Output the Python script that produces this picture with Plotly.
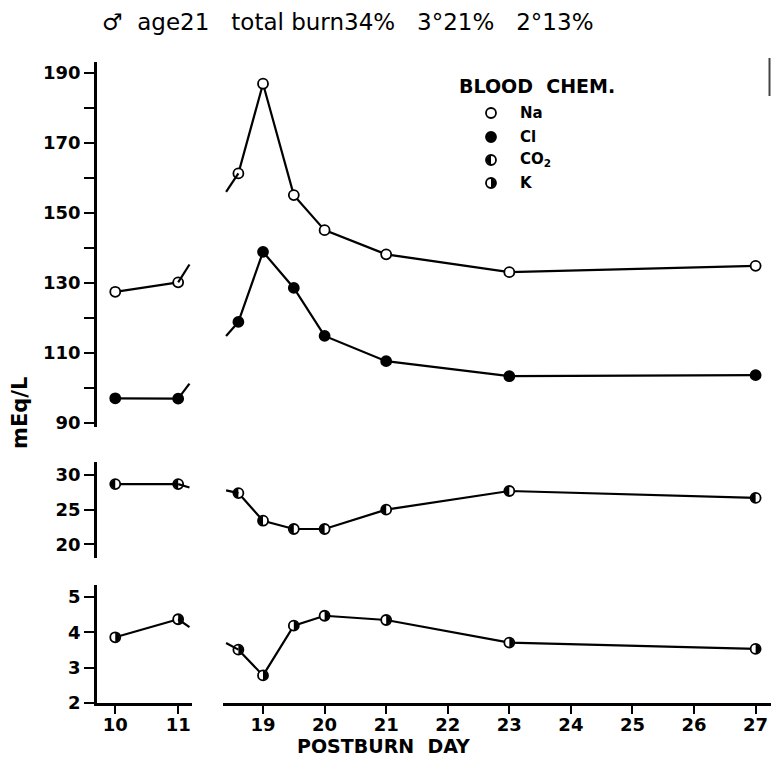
import plotly.graph_objects as go

W, H = 771, 761

# ---------------- data ----------------
days_left = [10, 11]
days_right = [18.6, 19, 19.5, 20, 21, 23, 27]
stub_day_left = 11.18      # line stubs drawn at the axis break
stub_day_right = 18.4

na_left = [127.5, 130.2]
na_right = [161.3, 186.9, 155.1, 145.1, 138.2, 133.1, 134.9]
na_stubs = [135.3, 156.0]

cl_left = [97.1, 97.0]
cl_right = [118.9, 138.9, 128.6, 114.9, 107.7, 103.4, 103.7]
cl_stubs = [101.3, 114.9]

co2_left = [28.7, 28.7]
co2_right = [27.4, 23.4, 22.2, 22.2, 25.0, 27.7, 26.7]
co2_stubs = [28.2, 27.8]

k_left = [3.86, 4.37]
k_right = [3.51, 2.78, 4.19, 4.47, 4.35, 3.71, 3.53]
k_stubs = [4.15, 3.7]

x_ticks_left = [10, 11]
x_ticks_right = [19, 20, 21, 22, 23, 24, 25, 26, 27]
y_ticks_top = [90, 110, 130, 150, 170, 190]
y_ticks_co2 = [20, 25, 30]
y_ticks_k = [2, 3, 4, 5]

legend_names = ["Na", "Cl", "CO<sub>2</sub>", "K"]
title_text = "\u2642\u00a0 age21\u00a0\u00a0 total burn34%\u00a0\u00a0 3\u00b021%\u00a0\u00a0 2\u00b013%"

# ---------------- style ----------------
FONT = "DejaVu Sans"
LW = 2.2
MS = 10


def fx(p):
    return p / W


def fy(p):
    return 1 - p / H


fig = go.Figure()


def add_series(xl, yl, xr, yr, stubs, yaxis, fill):
    mcolor = "black" if fill == "full" else "white"
    for xs, ys, xa in ((xl, yl, "x"), (xr, yr, "x2")):
        fig.add_trace(go.Scatter(
            x=xs, y=ys, xaxis=xa, yaxis=yaxis, mode="lines+markers",
            line=dict(color="black", width=LW),
            marker=dict(size=MS, color=mcolor, line=dict(color="black", width=1.8)),
            showlegend=False, hoverinfo="x+y", cliponaxis=False))
    # break stubs
    fig.add_trace(go.Scatter(x=[xl[-1], stub_day_left], y=[yl[-1], stubs[0]],
                             xaxis="x", yaxis=yaxis, mode="lines",
                             line=dict(color="black", width=LW), showlegend=False,
                             hoverinfo="skip", cliponaxis=False))
    fig.add_trace(go.Scatter(x=[stub_day_right, xr[0]], y=[stubs[1], yr[0]],
                             xaxis="x2", yaxis=yaxis, mode="lines",
                             line=dict(color="black", width=LW), showlegend=False,
                             hoverinfo="skip", cliponaxis=False))


add_series(days_left, na_left, days_right, na_right, na_stubs, "y", "open")
add_series(days_left, cl_left, days_right, cl_right, cl_stubs, "y", "full")
add_series(days_left, co2_left, days_right, co2_right, co2_stubs, "y2", "half")
add_series(days_left, k_left, days_right, k_right, k_stubs, "y3", "half")

R = 4.6
K_ = 0.5523 * R


def half_path(side):
    s = -1 if side == "left" else 1
    return (f"M 0,{R} C {s*K_},{R} {s*R},{K_} {s*R},0 "
            f"C {s*R},{-K_} {s*K_},{-R} 0,{-R} Z")


shapes = []


def half_shapes(xs, ys, xref, yref, side):
    for xv, yv in zip(xs, ys):
        shapes.append(dict(type="path", xref=xref, yref=yref,
                           xsizemode="pixel", ysizemode="pixel",
                           xanchor=xv, yanchor=yv, path=half_path(side),
                           fillcolor="black", line=dict(width=0), layer="above"))


half_shapes(days_left, co2_left, "x", "y2", "left")
half_shapes(days_right, co2_right, "x2", "y2", "left")
half_shapes(days_left, k_left, "x", "y3", "right")
half_shapes(days_right, k_right, "x2", "y3", "right")

# legend glyphs (paper coordinates)
leg_x = 491
leg_ys = [113, 137, 160, 183]
leg_fill = ["white", "black", "white", "white"]
for ly, fc in zip(leg_ys, leg_fill):
    shapes.append(dict(type="circle", xref="paper", yref="paper",
                       xsizemode="pixel", ysizemode="pixel",
                       xanchor=fx(leg_x), yanchor=fy(ly),
                       x0=-5, x1=5, y0=-5, y1=5,
                       fillcolor=fc, line=dict(color="black", width=1.8)))
for ly, side in ((leg_ys[2], "left"), (leg_ys[3], "right")):
    shapes.append(dict(type="path", xref="paper", yref="paper",
                       xsizemode="pixel", ysizemode="pixel",
                       xanchor=fx(leg_x), yanchor=fy(ly), path=half_path(side),
                       fillcolor="black", line=dict(width=0)))

# scan artifact at the top right edge
shapes.append(dict(type="line", xref="paper", yref="paper",
                   x0=fx(769.5), x1=fx(769.5), y0=fy(58), y1=fy(96),
                   line=dict(color="#444", width=2)))

annotations = [
    dict(text=title_text, xref="paper", yref="paper", x=fx(348), y=fy(22),
         xanchor="center", yanchor="middle", showarrow=False,
         font=dict(family=FONT, size=23, color="black")),
    dict(text="POSTBURN\u00a0 DAY", xref="paper", yref="paper", x=fx(383), y=fy(746),
         xanchor="center", yanchor="middle", showarrow=False,
         font=dict(family=FONT, size=19, color="black", weight="bold")),
    dict(text="mEq/L", xref="paper", yref="paper", x=fx(20), y=fy(413),
         xanchor="center", yanchor="middle", showarrow=False, textangle=-90,
         font=dict(family=FONT, size=21, color="black", weight="bold")),
    dict(text="BLOOD\u00a0 CHEM.", xref="paper", yref="paper", x=fx(457), y=fy(86),
         xanchor="left", yanchor="middle", showarrow=False,
         font=dict(family=FONT, size=19, color="black", weight="bold")),
]
for ly, name in zip(leg_ys, legend_names):
    annotations.append(dict(text=name, xref="paper", yref="paper", x=fx(518), y=fy(ly),
                            xanchor="left", yanchor="middle", showarrow=False,
                            font=dict(family=FONT, size=15, color="black", weight="bold")))

tickfont = dict(family=FONT, size=18, color="black", weight="bold")
axis_common = dict(showgrid=False, zeroline=False, showline=True, linecolor="black",
                   linewidth=2.5, ticks="outside", tickwidth=2,
                   tickcolor="black", tickfont=tickfont, fixedrange=True,
                   automargin=False)

fig.update_layout(
    width=W, height=H,
    margin=dict(l=0, r=0, t=0, b=0, autoexpand=False),
    paper_bgcolor="white", plot_bgcolor="white",
    showlegend=False,
    xaxis=dict(domain=[fx(97), fx(192)], range=[9.71, 11.22], anchor="y3",
               tickvals=x_ticks_left, ticklen=8, ticklabelstandoff=-4, **axis_common),
    xaxis2=dict(domain=[fx(223), 1.0], range=[18.35, 27.25], anchor="y3",
                tickvals=x_ticks_right, ticklen=8, ticklabelstandoff=-4, **axis_common),
    yaxis=dict(domain=[fy(427), fy(62)], range=[88.9, 193.1], anchor="x",
               tickvals=y_ticks_top, ticklen=10,
               minor=dict(dtick=10, tick0=0, ticks="outside", ticklen=10,
                          tickwidth=2, tickcolor="black"),
               **axis_common),
    yaxis2=dict(domain=[fy(558), fy(462)], range=[18.0, 31.9], anchor="x",
                tickvals=y_ticks_co2, ticklen=10, **axis_common),
    yaxis3=dict(domain=[fy(703), fy(585)], range=[2, 5.34], anchor="x",
                tickvals=y_ticks_k, ticklen=10, **axis_common),
    shapes=shapes,
    annotations=annotations,
)

fig.write_html("out.html",
               config={"displayModeBar": False},
               post_script="document.body.style.margin='0px';document.body.style.overflow='hidden';")
